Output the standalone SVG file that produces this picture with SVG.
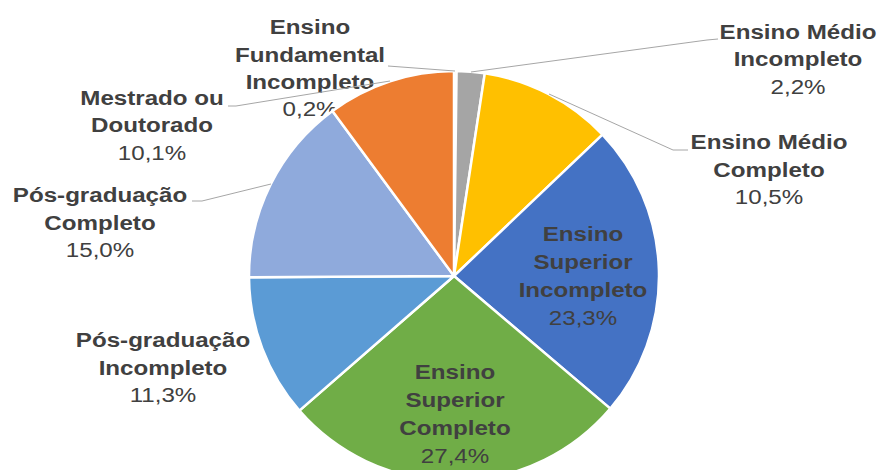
<svg xmlns="http://www.w3.org/2000/svg" width="881" height="470" viewBox="0 0 881 470">
<style>
.s{stroke:#fff;stroke-width:2.5;stroke-linejoin:round}
text{font-family:"Liberation Sans",Arial,sans-serif;font-size:21px;fill:#404040;text-anchor:middle}
.b{font-weight:bold}
.lead{fill:none;stroke:#A6A6A6;stroke-width:1}
</style>
<rect width="881" height="470" fill="#fff"/>
<g id="fund-inc">
<path class="s" fill="#264478" d="M454,276 L454,71 A205,205 0 0 1 456.58,71.02 Z"/>
<text transform="translate(310,0) scale(1.15,1)"><tspan class="b" x="0" y="34">Ensino</tspan><tspan class="b" x="0" y="62">Fundamental</tspan><tspan class="b" x="0" y="89">Incompleto</tspan><tspan x="0" y="116">0,2%</tspan></text>
</g>
<g id="medio-inc">
<path class="s" fill="#A5A5A5" d="M454,276 L456.58,71.02 A205,205 0 0 1 484.8,73.33 Z"/>
<text transform="translate(798,0) scale(1.15,1)"><tspan class="b" x="0" y="39">Ensino Médio</tspan><tspan class="b" x="0" y="66">Incompleto</tspan><tspan x="0" y="94">2,2%</tspan></text>
</g>
<g id="medio-comp">
<path class="s" fill="#FFC000" d="M454,276 L484.8,73.33 A205,205 0 0 1 602.51,134.69 Z"/>
<text transform="translate(769,0) scale(1.15,1)"><tspan class="b" x="0" y="149">Ensino Médio</tspan><tspan class="b" x="0" y="177">Completo</tspan><tspan x="0" y="204">10,5%</tspan></text>
</g>
<g id="sup-inc">
<path class="s" fill="#4472C4" d="M454,276 L602.51,134.69 A205,205 0 0 1 610.3,408.65 Z"/>
<text transform="translate(583,0) scale(1.15,1)"><tspan class="b" x="0" y="241">Ensino</tspan><tspan class="b" x="0" y="269">Superior</tspan><tspan class="b" x="0" y="297">Incompleto</tspan><tspan x="0" y="325">23,3%</tspan></text>
</g>
<g id="sup-comp">
<path class="s" fill="#70AD47" d="M454,276 L610.3,408.65 A205,205 0 0 1 299.38,410.6 Z"/>
<text transform="translate(455,0) scale(1.15,1)"><tspan class="b" x="0" y="379">Ensino</tspan><tspan class="b" x="0" y="407">Superior</tspan><tspan class="b" x="0" y="435">Completo</tspan><tspan x="0" y="463">27,4%</tspan></text>
</g>
<g id="pos-inc">
<path class="s" fill="#5B9BD5" d="M454,276 L299.38,410.6 A205,205 0 0 1 249,277.29 Z"/>
<text transform="translate(163,0) scale(1.15,1)"><tspan class="b" x="0" y="347">Pós-graduação</tspan><tspan class="b" x="0" y="375">Incompleto</tspan><tspan x="0" y="402">11,3%</tspan></text>
</g>
<g id="pos-comp">
<path class="s" fill="#8FAADC" d="M454,276 L249,277.29 A205,205 0 0 1 332.46,110.91 Z"/>
<text transform="translate(100,0) scale(1.15,1)"><tspan class="b" x="0" y="202">Pós-graduação</tspan><tspan class="b" x="0" y="230">Completo</tspan><tspan x="0" y="257">15,0%</tspan></text>
</g>
<g id="mestrado">
<path class="s" fill="#ED7D31" d="M454,276 L332.46,110.91 A205,205 0 0 1 454,71 Z"/>
<text transform="translate(152,0) scale(1.15,1)"><tspan class="b" x="0" y="105">Mestrado ou</tspan><tspan class="b" x="0" y="132">Doutorado</tspan><tspan x="0" y="160">10,1%</tspan></text>
</g>
<g id="connectors">
<polyline class="lead" points="718,39 707,40 471,72"/>
<polyline class="lead" points="688,150 673,150 549,94"/>
<polyline class="lead" points="388,66 455,71"/>
<polyline class="lead" points="228,106 236,106 390,81"/>
<polyline class="lead" points="192,201 202,201 271,184"/>
</g>
</svg>
